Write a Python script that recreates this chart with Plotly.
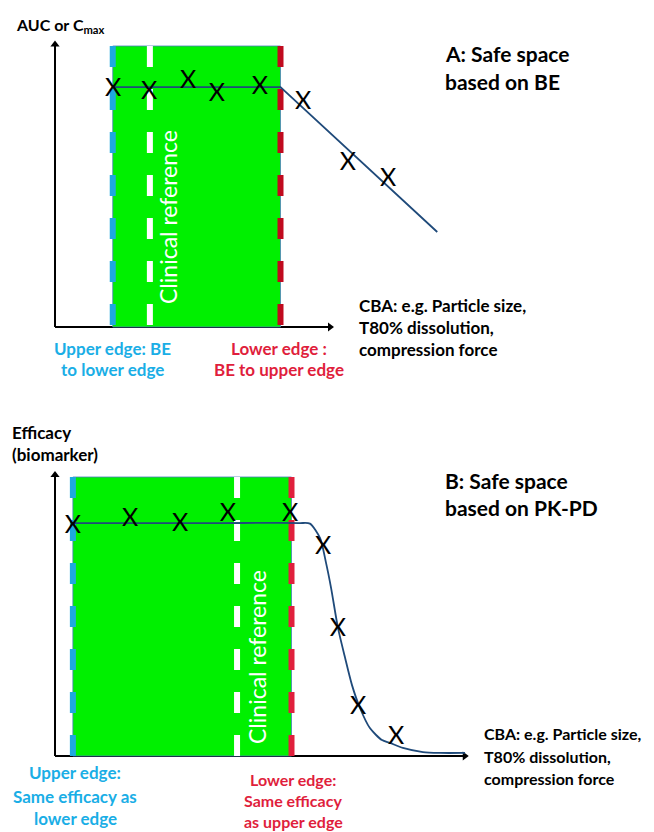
import plotly.graph_objects as go

W, H = 654, 832
OFF = 8  # default page body margin of the html page
FW, FH = W - OFF, H - OFF

# ---------------- Panel A data (CBA units vs AUC/Cmax units) ----------------
a_lower_edge = 2.1      # blue edge
a_clinical = 3.45       # clinical reference
a_upper_edge = 8.2      # red edge
a_space_top = 10.0
a_axis_x_max = 10.0
a_axis_y_max = 10.05
a_line_x = [2.1, 8.2, 13.9]
a_line_y = [8.54, 8.54, 3.38]
a_obs_x = [2.11, 3.42, 4.84, 5.89, 7.45, 9.02, 10.65, 12.11]
a_obs_y = [8.43, 8.33, 8.72, 8.26, 8.51, 7.97, 5.80, 5.23]

# ---------------- Panel B data (CBA units vs efficacy units) ----------------
b_lower_edge = 0.65
b_clinical = 6.62
b_upper_edge = 8.6
b_space_top = 10.0
b_axis_x_max = 14.9
b_axis_y_max = 10.07
b_curve_x = [0.65, 3.0, 6.0, 8.9, 9.27, 9.64, 9.85, 10.04, 10.29, 10.55, 10.8,
             11.09, 11.45, 11.89, 12.18, 12.65, 13.38, 14.0, 14.91]
b_curve_y = [8.35, 8.35, 8.35, 8.35, 8.33, 7.81, 6.95, 6.02, 4.59, 3.51, 2.54,
             1.72, 1.00, 0.57, 0.47, 0.29, 0.14, 0.11, 0.11]
b_obs_x = [0.65, 2.73, 4.55, 6.29, 8.55, 9.75, 10.29, 11.02, 12.4]
b_obs_y = [8.21, 8.46, 8.28, 8.64, 8.64, 7.46, 4.52, 1.72, 0.65]

# ---------------- styling ----------------
GREEN = "#00F000"
BLUE_EDGE = "#1FA8E0"
RED_A = "#C00A1E"
RED_B = "#E0203C"
BLUE_TXT = "#1AAEE6"
RED_TXT = "#E01E3C"
NAVY = "#1F4A7A"
FONT = "Lato"
DASH = "21px,22px"

# axis geometry (pixel mapping in page pixels)
X0_PX, X_SCALE = 55, 27.5
A_Y0_PX, A_YSCALE = 327, 28.1
B_Y0_PX, B_YSCALE = 756, 27.9
SPLIT = 416

xr = [(OFF - X0_PX) / X_SCALE, (W - X0_PX) / X_SCALE]
a_yr = [(A_Y0_PX - SPLIT) / A_YSCALE, (A_Y0_PX - OFF) / A_YSCALE]
b_yr = [(B_Y0_PX - H) / B_YSCALE, (B_Y0_PX - SPLIT) / B_YSCALE]
split_paper = (H - SPLIT) / FH

fig = go.Figure()


def panel(xa, ya, lo, clin, hi, top, red, lx, ly, ox, oy, spline, xmax, ymax):
    # axes with arrow heads
    fig.add_trace(go.Scatter(x=[0, xmax], y=[0, 0], mode="lines",
                             line=dict(color="black", width=2),
                             xaxis=xa, yaxis=ya, hoverinfo="skip"))
    fig.add_trace(go.Scatter(x=[0, 0], y=[0, ymax], mode="lines",
                             line=dict(color="black", width=2),
                             xaxis=xa, yaxis=ya, hoverinfo="skip"))
    fig.add_trace(go.Scatter(x=[xmax], y=[0], mode="markers",
                             marker=dict(symbol="triangle-right", size=8, color="black"),
                             xaxis=xa, yaxis=ya, hoverinfo="skip"))
    fig.add_trace(go.Scatter(x=[0], y=[ymax], mode="markers",
                             marker=dict(symbol="triangle-up", size=8, color="black"),
                             xaxis=xa, yaxis=ya, hoverinfo="skip"))
    # green safe space
    fig.add_trace(go.Scatter(x=[lo, hi, hi, lo, lo], y=[0, 0, top, top, 0],
                             fill="toself", fillcolor=GREEN, mode="lines",
                             line=dict(color="#4A7EBB", width=0.8),
                             xaxis=xa, yaxis=ya, hoverinfo="skip"))
    # edges
    for xv, col in [(lo, BLUE_EDGE), (clin, "white"), (hi, red)]:
        fig.add_trace(go.Scatter(x=[xv, xv], y=[top, 0], mode="lines",
                                 line=dict(color=col, width=6, dash=DASH),
                                 xaxis=xa, yaxis=ya, hoverinfo="skip"))
    # response line
    fig.add_trace(go.Scatter(x=lx, y=ly, mode="lines",
                             line=dict(color=NAVY, width=1.8,
                                       shape="spline" if spline else "linear",
                                       smoothing=0.7),
                             xaxis=xa, yaxis=ya, hoverinfo="skip"))
    # observations
    fig.add_trace(go.Scatter(x=ox, y=oy, mode="text", text=["X"] * len(ox),
                             textposition="middle center",
                             textfont=dict(family=FONT, size=25, color="black"),
                             xaxis=xa, yaxis=ya, hoverinfo="skip"))


panel("x", "y", a_lower_edge, a_clinical, a_upper_edge, a_space_top, RED_A,
      a_line_x, a_line_y, a_obs_x, a_obs_y, False, a_axis_x_max, a_axis_y_max)
panel("x2", "y2", b_lower_edge, b_clinical, b_upper_edge, b_space_top, RED_B,
      b_curve_x, b_curve_y, b_obs_x, b_obs_y, True, b_axis_x_max, b_axis_y_max)

ann = []


def txt(s, px, py, size, color="black", bold=True, anchor="left", angle=0):
    ann.append(dict(text=s, x=(px - OFF) / FW, y=1 - (py - OFF) / FH,
                    xref="paper", yref="paper",
                    xanchor=anchor, yanchor="middle", showarrow=False,
                    textangle=angle,
                    font=dict(family=FONT, size=size, color=color,
                              weight="bold" if bold else "normal")))


# Panel A text
txt("AUC or C<sub>max</sub>", 14, 25, 16)
txt("A: Safe space", 443, 53, 21)
txt("based on BE", 443, 81, 21)
for i, s in enumerate(["CBA: e.g. Particle size,", "T80% dissolution,", "compression force"]):
    txt(s, 357, [305, 327, 350][i], 17)
txt("Upper edge: BE", 112, 348, 17, BLUE_TXT, anchor="center")
txt("to lower edge", 112, 369, 17, BLUE_TXT, anchor="center")
txt("Lower edge :", 279, 348, 17, RED_TXT, anchor="center")
txt("BE to upper edge", 279, 369, 17, RED_TXT, anchor="center")
txt("Clinical reference", 168, 217, 23, "white", bold=False, anchor="center", angle=-90)

# Panel B text
txt("Efficacy", 10, 432, 17)
txt("(biomarker)", 10, 454, 17)
txt("B: Safe space", 443, 480, 21)
txt("based on PK-PD", 443, 508, 21)
for i, s in enumerate(["CBA: e.g. Particle size,", "T80% dissolution,", "compression force"]):
    txt(s, 482, [733, 756, 778][i], 16)
for i, s in enumerate(["Upper edge:", "Same efficacy as", "lower edge"]):
    txt(s, 75, [772, 796, 818][i], 17, BLUE_TXT, anchor="center")
for i, s in enumerate(["Lower edge:", "Same efficacy", "as upper edge"]):
    txt(s, 293, [779, 800, 821][i], 16, RED_TXT, anchor="center")
txt("Clinical reference", 257, 657, 23, "white", bold=False, anchor="center", angle=-90)

ax_common = dict(visible=False, showgrid=False, zeroline=False, fixedrange=True)
fig.update_layout(
    width=FW, height=FH, margin=dict(l=0, r=0, t=0, b=0),
    paper_bgcolor="white", plot_bgcolor="white", showlegend=False,
    xaxis=dict(domain=[0, 1], range=xr, anchor="y", **ax_common),
    yaxis=dict(domain=[split_paper, 1], range=a_yr, anchor="x", **ax_common),
    xaxis2=dict(domain=[0, 1], range=xr, anchor="y2", **ax_common),
    yaxis2=dict(domain=[0, split_paper], range=b_yr, anchor="x2", **ax_common),
    annotations=ann,
)

fig.write_html("out.html")
